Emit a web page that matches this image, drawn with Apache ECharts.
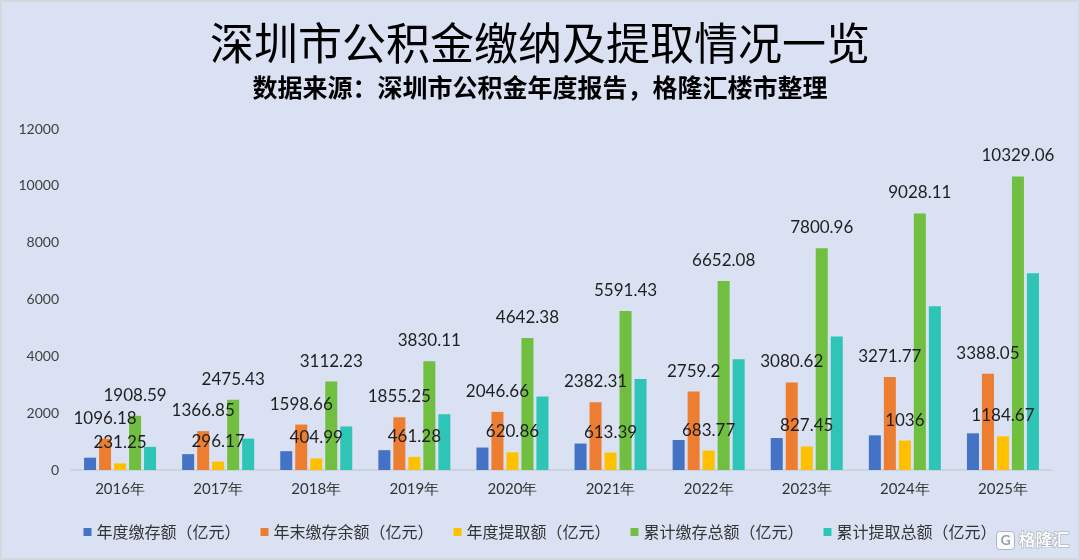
<!DOCTYPE html>
<html>
<head>
    <meta charset="utf-8">
    <title>深圳市公积金缴纳及提取情况一览</title>
    <script src="https://cdn.jsdelivr.net/npm/echarts@6.0.0/dist/echarts.min.js"></script>
    <style>
        html, body { margin: 0; padding: 0; background: #d9e1f3; }
        #main {
            width: 1080px;
            height: 560px;
            box-sizing: border-box;
            border: 2px solid #d6d8dd;
        }
    </style>
</head>
<body>
    <div id="main"></div>
    <script>
        // 年份
        const years = ['2016年', '2017年', '2018年', '2019年', '2020年', '2021年', '2022年', '2023年', '2024年', '2025年'];
        // 年度缴存额（图中未标注，按柱高估读）
        const annualDeposit = [432, 557, 662, 697, 790, 930, 1056, 1125, 1220, 1290];
        // 年末缴存余额
        const yearEndBalance = [1096.18, 1366.85, 1598.66, 1855.25, 2046.66, 2382.31, 2759.2, 3080.62, 3271.77, 3388.05];
        // 年度提取额
        const annualWithdraw = [231.25, 296.17, 404.99, 461.28, 620.86, 613.39, 683.77, 827.45, 1036, 1184.67];
        // 累计缴存总额
        const totalDeposit = [1908.59, 2475.43, 3112.23, 3830.11, 4642.38, 5591.43, 6652.08, 7800.96, 9028.11, 10329.06];
        // 累计提取总额（图中未标注，按柱高估读）
        const totalWithdraw = [815, 1104, 1533, 1962, 2590, 3206, 3900, 4700, 5760, 6923];

        const seriesNames = ['年度缴存额（亿元）', '年末缴存余额（亿元）', '年度提取额（亿元）', '累计缴存总额（亿元）', '累计提取总额（亿元）'];
        const colors = ['#4472c4', '#ed7d31', '#ffc000', '#70bf41', '#2ec4b6'];

        const labelStyle = {
            show: true,
            position: 'top',
            distance: 12,
            fontFamily: 'Lato',
            fontSize: 17,
            color: '#1f1f1f'
        };

        const makeSeries = (name, data, showLabel) => ({
            name: name,
            type: 'bar',
            data: data,
            barWidth: 12,
            barGap: '25%',
            label: showLabel ? labelStyle : { show: false }
        });

        const myChart = echarts.init(document.getElementById('main'));

        const option = {
            backgroundColor: '#d9e1f3',
            color: colors,
            title: [
                {
                    text: '深圳市公积金缴纳及提取情况一览',
                    left: 'center',
                    top: 14,
                    textStyle: {
                        fontFamily: 'Noto Sans CJK SC',
                        fontSize: 44,
                        fontWeight: 'normal',
                        color: '#000'
                    }
                },
                {
                    text: '数据来源：深圳市公积金年度报告，格隆汇楼市整理',
                    left: 'center',
                    top: 68,
                    textStyle: {
                        fontFamily: 'Noto Sans CJK SC',
                        fontSize: 25,
                        fontWeight: 'bold',
                        color: '#000'
                    }
                }
            ],
            legend: {
                data: seriesNames,
                bottom: 13,
                left: 'center',
                itemWidth: 8,
                itemHeight: 8,
                itemGap: 20,
                icon: 'rect',
                textStyle: {
                    fontFamily: 'Noto Sans CJK SC',
                    fontSize: 16,
                    color: '#333'
                }
            },
            grid: {
                left: 69,
                right: 26,
                top: 127,
                bottom: 88
            },
            xAxis: {
                type: 'category',
                data: years,
                axisLine: { lineStyle: { color: '#c8cdd8', width: 1.5 } },
                axisTick: { show: false },
                axisLabel: {
                    fontFamily: 'Lato',
                    fontSize: 15,
                    color: '#333',
                    margin: 12
                }
            },
            yAxis: {
                type: 'value',
                min: 0,
                max: 12000,
                interval: 2000,
                splitLine: { show: false },
                axisLine: { show: false },
                axisTick: { show: false },
                axisLabel: {
                    fontFamily: 'Lato',
                    fontSize: 14,
                    color: '#404040',
                    margin: 12,
                    formatter: (v) => String(v)
                }
            },
            series: [
                makeSeries(seriesNames[0], annualDeposit, false),
                makeSeries(seriesNames[1], yearEndBalance, true),
                makeSeries(seriesNames[2], annualWithdraw, true),
                makeSeries(seriesNames[3], totalDeposit, true),
                makeSeries(seriesNames[4], totalWithdraw, false)
            ],
            graphic: [
                {
                    type: 'group',
                    right: 8,
                    bottom: 8,
                    children: [
                        {
                            type: 'rect',
                            shape: { x: 0, y: 0, width: 18, height: 18, r: 3 },
                            style: { fill: 'rgba(255,255,255,0.85)', stroke: '#b0b4bc', lineWidth: 1 }
                        },
                        {
                            type: 'text',
                            x: 4, y: 2,
                            style: { text: 'G', font: 'bold 14px Lato', fill: '#9aa0aa' }
                        },
                        {
                            type: 'text',
                            x: 22, y: 0,
                            style: {
                                text: '格隆汇',
                                font: 'bold 17px "Noto Sans CJK SC"',
                                fill: 'rgba(255,255,255,0.9)',
                                stroke: '#a0a4ac',
                                lineWidth: 1
                            }
                        }
                    ]
                }
            ]
        };

        myChart.setOption(option);
    </script>
</body>
</html>
